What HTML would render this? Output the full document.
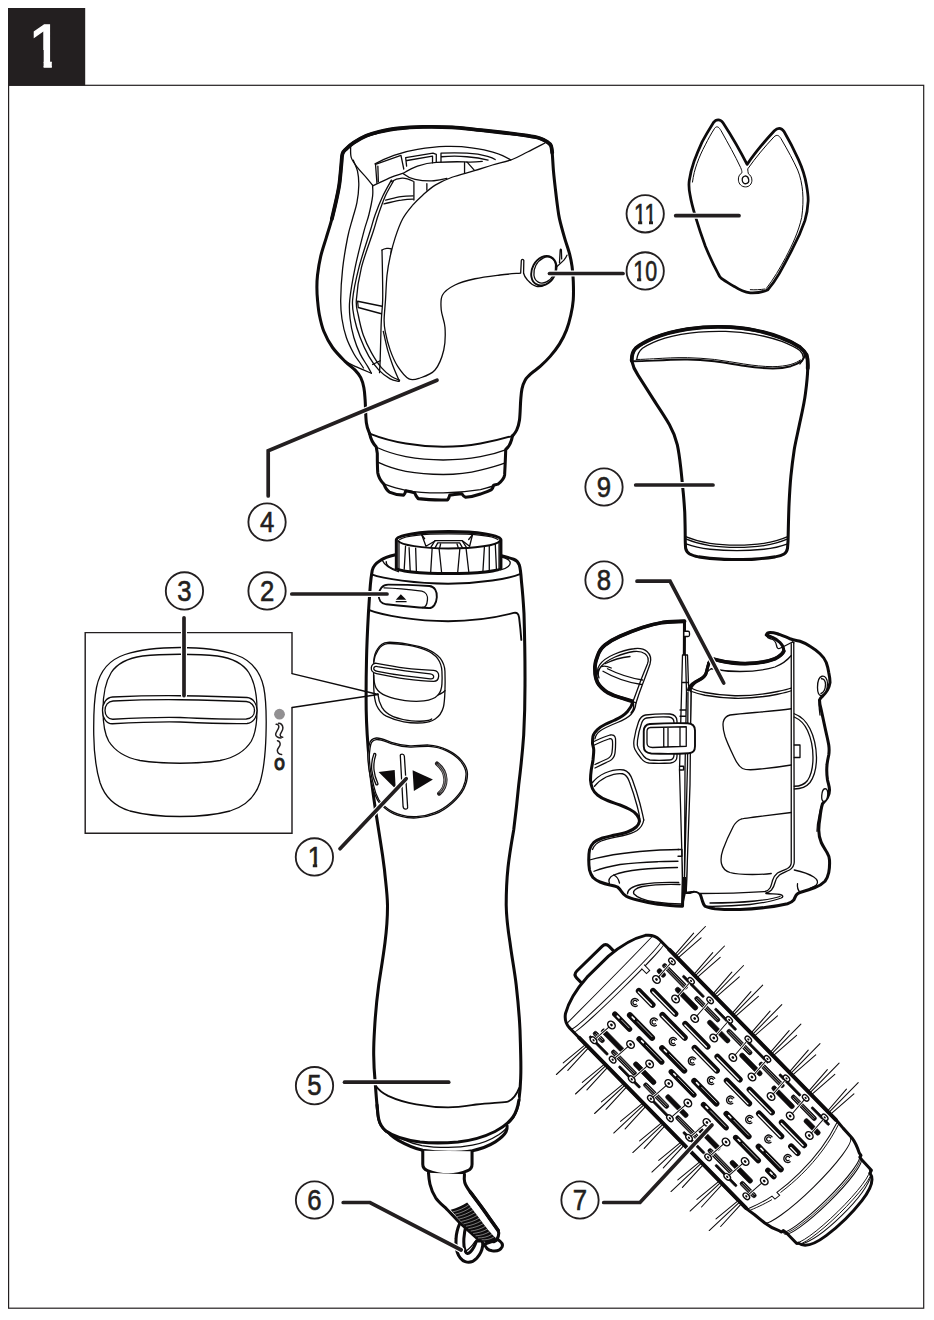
<!DOCTYPE html>
<html lang="en">
<head>
<meta charset="utf-8">
<title>1</title>
<style>
html,body{margin:0;padding:0;background:#fff;}
body{width:934px;height:1320px;overflow:hidden;position:relative;font-family:"Liberation Sans",sans-serif;}
svg{position:absolute;left:0;top:0;display:block;}
.o{fill:none;stroke:#0d0b0c;stroke-linecap:round;stroke-linejoin:round;vector-effect:non-scaling-stroke;}
.w{fill:#fff;stroke:#0d0b0c;stroke-linecap:round;stroke-linejoin:round;vector-effect:non-scaling-stroke;}
.k{fill:#0d0b0c;stroke:none;}
.t3{stroke-width:3.8} .t2{stroke-width:3.05} .t15{stroke-width:1.9} .t1{stroke-width:1.3} .t07{stroke-width:1}
.ld{fill:none;stroke:#231f20;stroke-width:3.7;stroke-linecap:round;stroke-linejoin:miter;}
.lh{fill:none;stroke:#fff;stroke-width:6;stroke-linecap:round;stroke-linejoin:miter;}
.lc{fill:#fff;stroke:#231f20;stroke-width:1.85;}
.lt{font-family:"Liberation Sans",sans-serif;font-size:28.6px;fill:#231f20;text-anchor:middle;stroke:#231f20;stroke-width:.6;}
</style>
</head>
<body>
<svg width="934" height="1320" viewBox="0 0 934 1320">
<!-- frame + header -->
<rect x="8" y="8" width="77.2" height="77.6" fill="#231f20"/>
<rect x="8.6" y="85.3" width="915.1" height="1222.9" fill="none" stroke="#231f20" stroke-width="1.2"/>
<clipPath id="c1"><polygon points="28,18 51.8,18 51.8,69 43.6,69 43.6,50 28,50"/></clipPath>
<text x="45.6" y="67.3" clip-path="url(#c1)" font-family="Liberation Sans, sans-serif" font-size="61.5" fill="#fff" text-anchor="middle" stroke="#fff" stroke-width="1.3">1</text>

<!-- ===== inset box (3): zoom origin 70,610 scale 4 ===== -->
<path d="M292,673.7 L292,632.6 L85.2,632.6 L85.2,833.2 L292,833.2 L292,707.5" fill="#fff" stroke="#231f20" stroke-width="1.45" stroke-linejoin="miter"/>
<g transform="translate(70,610) scale(0.25)">
  <!-- outer housing -->
  <path class="w t1" d="M440,150 C520,150 600,158 660,178 C720,198 760,240 775,310 C785,360 786,430 784,500 C782,570 778,630 760,690 C742,745 700,785 640,804 C580,820 510,826 440,826 C370,826 300,820 240,804 C180,786 138,745 120,690 C102,630 96,570 95,500 C94,430 96,360 106,310 C120,240 160,198 220,178 C280,158 360,150 440,150 Z"/>
  <!-- slider knob body -->
  <path class="o t1" d="M132,400 C132,340 140,290 165,250 C190,212 235,192 290,184 C340,178 390,177 440,177 C490,177 540,178 590,184 C645,192 690,212 715,250 C740,290 748,340 748,400 C748,450 745,490 725,525 C700,565 660,590 600,602 C550,610 495,613 440,613 C385,613 330,610 280,602 C220,590 180,565 155,525 C135,490 132,450 132,400 Z"/>
  <!-- slider bar -->
  <path class="w t1" d="M170,348 C260,344 350,342 440,343 C530,344 620,346 708,350 C732,352 748,374 748,402 C748,430 732,452 708,454 C620,456 530,452 440,448 C350,446 260,450 170,455 C146,456 130,432 130,402 C130,372 146,350 170,348 Z"/>
  <path class="o t1" d="M172,364 C260,360 350,358 440,359 C530,360 620,362 705,366 C726,368 738,384 738,402 C738,420 726,434 705,436 C620,438 530,434 440,430 C350,428 260,432 172,437 C152,438 140,420 140,402 C140,382 152,365 172,364 Z"/>
</g>
<!-- symbols: zoom origin 262,700 scale 17.6 -->
<circle cx="279.5" cy="714.2" r="5.4" fill="#929092"/>
<g transform="translate(262,700) scale(0.05682)" fill="none" stroke="#231f20" stroke-width="1.5" stroke-linecap="round">
  <path vector-effect="non-scaling-stroke" d="M250,428 C285,425 300,450 295,480 C287,520 245,560 240,600 C238,640 285,668 335,668"/>
  <path vector-effect="non-scaling-stroke" d="M292,408 C330,405 365,440 368,490 C370,540 325,580 320,610 C318,640 340,655 365,655"/>
  <path vector-effect="non-scaling-stroke" d="M272,716 C305,722 325,755 318,790 C310,830 268,850 270,890 C272,930 310,955 345,960"/>
</g>
<text transform="translate(279.5,770.4) scale(.8,1)" text-anchor="middle" font-family="Liberation Sans, sans-serif" font-weight="bold" font-size="17" fill="#231f20" stroke="#231f20" stroke-width=".9">O</text>

<!-- ===== attachment (4): coords A = zoom origin 310,120 scale 4 (generated by gen_attach.py) ===== -->
<g transform="translate(310,120) scale(0.25)">
  <path class="w t2" d="M238.5,1254.6 C236.3,1247.3 228.4,1233.2 225.4,1210.7 C222.4,1188.2 222.2,1143.1 220.5,1119.8 C218.8,1096.5 218.4,1085.5 215.5,1070.7 C212.6,1055.9 208.8,1042.4 203.0,1030.7 C197.2,1019.0 190.8,1011.5 180.4,1000.6 C170.0,989.7 155.3,980.6 140.3,965.5 C125.3,950.4 104.4,930.1 90.2,910.0 C76.0,889.9 64.0,866.7 55.2,845.0 C46.4,823.3 41.8,800.8 37.6,780.0 C33.4,759.2 31.8,738.2 30.1,720.0 C28.4,701.8 27.6,687.3 27.6,670.8 C27.6,654.3 27.5,641.7 30.0,620.8 C32.5,599.9 36.9,570.7 42.8,545.6 C48.7,520.5 57.7,495.5 65.2,470.4 C72.7,445.3 80.9,420.3 87.6,395.2 C94.3,370.1 100.2,343.3 105.2,320.0 C110.2,296.7 114.3,278.9 117.6,255.6 C120.9,232.3 123.1,200.5 125.2,180.4 C127.3,160.3 126.7,146.1 130.0,135.2 C133.3,124.3 137.7,122.7 145.2,115.2 C152.7,107.7 161.9,99.1 175.2,90.4 C188.5,81.7 208.5,69.9 225.2,62.8 C241.9,55.7 254.3,52.4 275.2,47.6 C296.1,42.8 321.1,37.3 350.4,34.0 C379.7,30.7 414.5,28.4 450.8,27.6 C487.1,26.8 531.8,27.4 568.0,29.3 C604.2,31.2 634.8,35.8 668.2,39.2 C701.6,42.7 735.0,46.1 768.4,50.0 C801.8,53.9 843.7,59.0 868.8,62.8 C893.9,66.6 905.5,68.7 918.8,72.8 C932.1,76.9 941.3,82.6 948.8,87.6 C956.3,92.6 960.7,95.7 964.0,102.8 C967.3,109.9 967.1,113.3 968.8,130.4 C970.5,147.5 971.8,180.7 974.0,205.6 C976.2,230.5 979.3,256.8 982.0,280.0 C984.7,303.2 987.3,325.8 990.0,345.0 C992.7,364.2 993.3,374.3 998.0,395.2 C1002.7,416.1 1011.3,446.9 1018.0,470.3 C1024.7,493.7 1033.2,516.3 1038.2,535.5 C1043.2,554.7 1045.7,567.2 1048.2,585.6 C1050.7,604.0 1052.4,623.3 1053.2,645.7 C1054.0,668.1 1054.6,697.6 1053.0,720.0 C1051.4,742.4 1047.9,760.1 1043.4,780.1 C1038.9,800.1 1033.3,821.1 1025.8,840.3 C1018.3,859.5 1009.1,877.9 998.3,895.4 C987.4,912.9 973.7,930.5 960.7,945.5 C947.8,960.5 933.1,974.3 920.6,985.6 C908.1,996.9 895.5,1003.9 885.5,1013.1 C875.5,1022.3 866.8,1030.2 860.5,1040.7 C854.2,1051.2 850.8,1062.6 847.9,1075.8 C845.0,1089.0 844.5,1099.1 842.9,1119.8 C841.2,1140.5 840.7,1180.0 838.0,1200.0 C835.3,1220.0 831.5,1229.3 826.8,1240.0 C822.1,1250.7 812.8,1260.0 810.0,1264.0"/>
  <path class="o t3" d="M87.6,395.2 C90.5,382.7 100.2,343.3 105.2,320.0 C110.2,296.7 114.3,278.9 117.6,255.6 C120.9,232.3 123.1,200.5 125.2,180.4 C127.3,160.3 126.7,146.1 130.0,135.2 C133.3,124.3 137.7,122.7 145.2,115.2 C152.7,107.7 161.9,99.1 175.2,90.4 C188.5,81.7 208.5,69.9 225.2,62.8 C241.9,55.7 254.3,52.4 275.2,47.6 C296.1,42.8 321.1,37.3 350.4,34.0 C379.7,30.7 414.5,28.4 450.8,27.6 C487.1,26.8 531.8,27.4 568.0,29.3 C604.2,31.2 634.8,35.8 668.2,39.2 C701.6,42.7 735.0,46.1 768.4,50.0 C801.8,53.9 843.7,59.0 868.8,62.8 C893.9,66.6 905.5,68.7 918.8,72.8 C932.1,76.9 941.3,82.6 948.8,87.6 C956.3,92.6 960.7,95.7 964.0,102.8 C967.3,109.9 968.0,125.8 968.8,130.4"/>
  <path class="o t1" d="M162.6,105.3 C163.0,112.8 160.5,136.2 165.1,150.4 C169.7,164.6 180.2,177.1 190.2,190.4 C200.2,203.8 215.3,218.8 225.3,230.5 C235.3,242.2 246.1,255.6 250.3,260.6"/>
  <path class="o t1" d="M160.0,106.0 C163.0,103.0 167.7,94.3 178.0,88.0 C188.3,81.7 206.3,73.8 222.0,68.0 C237.7,62.2 263.7,55.5 272.0,53.0"/>
  <path class="o t1" d="M172.7,160.4 C175.6,167.9 186.4,188.8 190.2,205.5 C193.9,222.2 195.6,239.7 195.2,260.6 C194.8,281.5 191.9,308.3 187.7,330.7 C183.5,353.1 176.3,371.8 170.1,395.0 C163.9,418.2 157.0,436.6 150.4,470.0 C143.8,503.4 135.0,553.9 130.4,595.6 C125.8,637.3 123.2,686.8 122.8,720.0 C122.4,753.2 124.0,770.0 127.8,795.0 C131.6,820.0 137.5,846.7 145.4,870.0 C153.3,893.3 166.2,918.0 175.4,935.0 C184.6,952.0 194.1,962.5 200.5,972.0 C206.9,981.5 211.8,988.7 214.0,992.0"/>
  <path class="o t1" d="M250.3,260.6 C250.3,268.1 252.8,285.8 250.3,305.7 C247.8,325.6 241.1,356.8 235.3,380.0 C229.5,403.2 224.8,410.1 215.6,445.2 C206.4,480.3 189.8,544.6 180.4,590.4 C171.0,636.2 162.3,685.9 159.0,720.0 C155.7,754.1 157.7,770.0 160.4,795.0 C163.1,820.0 168.7,846.6 175.4,870.0 C182.1,893.4 191.3,916.1 200.5,935.4 C209.7,954.7 223.0,972.7 230.5,985.6 C238.0,998.5 243.1,1008.4 245.6,1013.0"/>
  <path class="o t1" d="M140.3,965.5 C147.0,968.9 162.9,977.7 180.4,985.6 C197.9,993.5 234.7,1008.4 245.6,1013.0"/>
  <path class="o t1" d="M325.5,240.6 C319.6,251.4 301.3,282.5 290.4,305.7 C279.5,328.9 268.6,356.8 260.3,380.0 C252.0,403.2 251.2,410.1 240.4,445.2 C229.6,480.3 207.3,544.6 195.6,590.4 C183.9,636.2 173.3,685.9 170.4,720.0 C167.5,754.1 172.9,770.0 177.9,795.0 C182.9,820.0 190.9,844.9 200.5,870.0 C210.1,895.1 223.0,923.7 235.5,945.5 C248.0,967.3 261.4,985.6 275.6,1000.6 C289.8,1015.6 307.3,1028.2 320.7,1035.7 C334.1,1043.2 349.9,1044.0 355.8,1045.7"/>
  <path class="o t1" d="M333.0,245.6 C327.6,255.6 310.4,283.3 300.4,305.7 C290.4,328.1 280.8,356.8 272.9,380.0 C265.0,403.2 264.4,410.1 253.2,445.2 C242.0,480.3 216.9,544.6 205.6,590.4 C194.3,636.2 187.5,688.4 185.4,720.0 C183.3,751.6 188.4,756.7 193.0,780.0 C197.6,803.3 204.2,834.9 213.0,860.0 C221.8,885.1 233.5,908.6 245.6,930.4 C257.7,952.2 272.2,974.7 285.6,990.6 C299.0,1006.5 313.6,1017.4 325.7,1025.7 C337.8,1034.0 352.9,1038.2 358.3,1040.7 L355.8,1045.7"/>
  <path class="o t1" d="M288.0,520.4 C288.3,537.0 289.6,586.7 290.0,620.0 C290.4,653.3 291.4,690.8 290.7,720.0 C290.0,749.2 286.9,770.0 285.6,795.0 C284.3,820.0 283.9,842.4 283.1,870.0 C282.3,897.6 281.4,937.1 280.6,960.5 C279.8,983.9 278.5,1002.2 278.1,1010.6"/>
  <path class="o t1" d="M288,520.4 C298,513 316,511 325.6,515.6 M325.6,515.6 L322,548 M250.6,978 L280.6,963"/>
  <path class="o t1" d="M190.4,725 L288.1,745 M193,750 L285.6,775 M190.4,725 L193,750"/>
  <path class="w t1" d="M944.0,90.0 C931.7,96.3 892.6,116.7 870.0,128.0 C847.4,139.3 831.7,149.3 808.4,158.0 C785.1,166.7 755.1,172.5 730.0,180.0 C704.9,187.5 685.0,194.6 658.0,202.8 C631.0,211.0 594.2,219.4 568.0,229.0 C541.8,238.6 520.4,248.7 500.9,260.6 C481.4,272.6 465.9,287.3 450.8,300.7 C435.8,314.1 423.9,325.1 410.6,340.8 C397.3,356.6 382.4,373.6 370.8,395.2 C359.2,416.8 349.1,445.3 340.8,470.4 C332.5,495.5 326.3,520.5 320.8,545.6 C315.3,570.7 311.1,591.7 308.0,620.8 C304.9,649.9 303.9,690.1 302.0,720.0 C300.1,749.9 296.7,779.1 296.5,800.0 C296.3,820.9 296.7,825.2 300.7,845.3 C304.7,865.4 312.3,897.0 320.7,920.4 C329.1,943.8 338.3,966.4 350.8,985.6 C363.3,1004.8 381.0,1028.0 395.9,1035.7 C410.8,1043.4 422.6,1038.0 440.0,1032.0 C457.4,1026.0 484.2,1018.7 500.0,1000.0 C515.8,981.3 528.3,948.3 535.0,920.0 C541.7,891.7 541.7,856.7 540.0,830.0 C538.3,803.3 526.7,781.7 525.0,760.0 C523.3,738.3 520.8,716.7 530.0,700.0 C539.2,683.3 558.3,670.8 580.0,660.0 C601.7,649.2 630.0,641.7 660.0,635.0 C690.0,628.3 729.7,623.8 760.0,620.0 C790.3,616.2 828.3,613.8 842.0,612.5 L960,560 L945,130 Z" style="stroke:none"/>
  <path class="o t1" d="M944.0,90.0 C931.7,96.3 892.6,116.7 870.0,128.0 C847.4,139.3 831.7,149.3 808.4,158.0 C785.1,166.7 755.1,172.5 730.0,180.0 C704.9,187.5 685.0,194.6 658.0,202.8 C631.0,211.0 594.2,219.4 568.0,229.0 C541.8,238.6 520.4,248.7 500.9,260.6 C481.4,272.6 465.9,287.3 450.8,300.7 C435.8,314.1 423.9,325.1 410.6,340.8 C397.3,356.6 382.4,373.6 370.8,395.2 C359.2,416.8 349.1,445.3 340.8,470.4 C332.5,495.5 326.3,520.5 320.8,545.6 C315.3,570.7 311.1,591.7 308.0,620.8 C304.9,649.9 303.9,690.1 302.0,720.0 C300.1,749.9 296.7,779.1 296.5,800.0 C296.3,820.9 296.7,825.2 300.7,845.3 C304.7,865.4 312.3,897.0 320.7,920.4 C329.1,943.8 338.3,966.4 350.8,985.6 C363.3,1004.8 381.0,1028.0 395.9,1035.7 C410.8,1043.4 422.6,1038.0 440.0,1032.0 C457.4,1026.0 484.2,1018.7 500.0,1000.0 C515.8,981.3 528.3,948.3 535.0,920.0 C541.7,891.7 541.7,856.7 540.0,830.0 C538.3,803.3 526.7,781.7 525.0,760.0 C523.3,738.3 520.8,716.7 530.0,700.0 C539.2,683.3 558.3,670.8 580.0,660.0 C601.7,649.2 630.0,641.7 660.0,635.0 C690.0,628.3 729.7,623.8 760.0,620.0 C790.3,616.2 828.3,613.8 842.0,612.5"/>
  <path class="o t1" d="M293.2,845.3 C296.1,857.8 304.4,897.8 310.7,920.4 C316.9,943.0 323.2,960.5 330.7,980.6 C338.2,1000.7 351.6,1030.7 355.8,1040.7"/>
  <path class="o t1" d="M842.8,610.6 L845.3,562 C846,556 854,556 855.3,562 L854.3,613"/>
  <path class="o t1" d="M854.3,613 C858,628 864,634 870.3,640.7 C880,652 892,662 905.4,665.7 C920,668 934,664 945.5,655.7 C956,648 964,640 970.5,630.6"/>
  <ellipse class="w t15" cx="935.5" cy="603" rx="47" ry="62" transform="rotate(28 935.5 603)"/>
  <ellipse class="o t1" cx="939" cy="600" rx="40" ry="55" transform="rotate(28 939 600)"/>
  <path class="o t1" d="M988,585.6 C1000,576 1008,568 1015.6,560.5 C1021,554 1025,548 1028,540.5 M998,570.5 L1000.6,522 C1001,516 1005,515 1005.6,520 L1006.6,555.5"/>
</g>
<!-- top opening details: coords B = zoom origin 335,120 scale 4.245 -->
<g transform="translate(335,120) scale(0.23555)">
  <path class="o t1" d="M170,186 C195,172 222,160 250,150 C285,138 318,130 350,125 C390,118 430,113 470,112 C510,111 548,113 580,118 C615,123 645,128 670,136 C700,145 728,156 746,170"/>
  <path class="o t1" d="M172,188 L280,150 L292,208 M172,188 L178,268 M182,196 L184,262"/>
  <path class="o t1" d="M300,160 L416,141 L430,146 L430,180 M300,160 L304,196 M306,172 L414,153 L414,182"/>
  <path class="o t1" d="M450,141 C490,139 525,139 560,141 C595,143 625,148 648,154 C662,158 672,162 680,168 M450,141 L450,178 M452,156 C490,153 525,153 560,156 C590,158 620,162 650,170"/>
  <!-- inner ring -->
  <path class="o t1" d="M160,280 C185,268 210,256 232,246 C255,236 272,232 290,226 C310,214 330,203 350,196 C378,186 404,181 430,180 C470,178 510,176 550,178 C580,180 605,178 625,176"/>
  <path class="o t1" d="M290,228 C305,240 322,248 340,252 C368,258 396,260 420,258 C440,256 458,252 475,248"/>
  <path class="o t1" d="M238,262 C255,252 270,248 285,247 C300,246 315,252 332,260"/>
  <path class="o t1" d="M335,262 L335,340 M390,270 L390,298 M550,180 L550,226 M560,178 L592,214"/>
  <path class="o t1" d="M215,340 C240,334 260,328 280,325 C298,322 315,322 332,322 M208,356 C235,350 260,343 282,340 C300,337 316,336 332,336"/>
</g>
<!-- base of attachment: coords C = zoom origin 340,370 scale 4.556 -->
<g transform="translate(340,370) scale(0.21949)">
  <path class="w t2" d="M135,290 C140,315 150,335 165,350 L170,380 C170,410 170,440 172,468 C176,492 188,508 200,520 C208,540 215,550 225,556 C245,565 268,570 290,570 C296,565 298,558 300,550 C312,552 326,555 340,560 C345,572 350,580 356,586 C400,592 445,593 490,592 C496,586 498,578 500,570 C518,568 538,566 555,564 C560,572 565,578 572,580 C598,578 620,572 640,565 C660,558 678,552 690,545 C696,540 698,532 700,525 C708,523 714,522 720,520 C738,505 748,492 750,478 C752,440 754,400 755,362 C770,350 780,335 786,300"/>
  <path class="o t15" d="M135,290 C190,312 245,326 300,335 C358,345 414,350 470,350 C528,350 585,345 640,335 C692,326 740,314 786,300"/>
  <path class="o t1" d="M166,352 C210,372 255,386 300,395 C355,405 412,410 470,410 C528,410 585,405 640,395 C680,388 718,378 754,364"/>
  <path class="o t1" d="M172,420 C215,440 258,454 300,462 C355,472 412,476 470,476 C528,476 585,470 640,456 C680,446 716,436 750,424"/>
  <path class="o t1" d="M202,520 C235,532 268,542 300,548 C355,558 412,561 470,560 C528,559 585,554 640,545 C670,538 698,530 722,518"/>
</g>

<!-- ===== handle (5) ===== -->
<g id="handle">
<!-- body silhouette -->
<path class="w t2" d="M395.6,554.7 C388,556.5 383,558.5 380.6,560.3 C375.5,563.5 373,566 372.2,570.6 C370.8,579 370.6,582 370.3,585.6 C369.5,596 368.9,606 368.4,613.7 C367.6,628 366.8,645 366.5,660 C366.1,677 366,693 366.2,710 C366.5,727 367.6,743 369.2,760 C370.8,777 373,793 375.5,810 C377,820 378.6,830 380.2,840 C382,851 383.3,860 384.5,870 C385.6,882 387.3,893 387.5,905 C387.6,918 386.6,930 385,942.5 C383.2,957 380.8,971 378.7,985 C376.7,1000 375.3,1015 374.5,1030 C374,1038 373.6,1047 373.7,1055 C373.8,1063 374.2,1072 375,1080 C375.6,1088 376.2,1097 377,1105 C377.5,1110 377.9,1115 378.7,1119 C380,1125 383,1128.5 386,1131 C394,1137 405,1140 420,1142 C433,1143.4 446,1143 458,1142 C472,1140.5 484,1137 495,1131.5 C503,1127.5 509,1122.5 513,1117 C516.5,1112 518,1106 518.9,1100 C520,1092 520.5,1085 520.7,1078 C521,1070 520.9,1063 520.7,1055 C520.5,1047 520.3,1038 520,1030 C519.3,1015 517.9,1000 516.2,985 C514.6,971 511.8,957 510,942.5 C508,930 506.4,918 506.2,905 C506.2,892 506.7,880 508,867.5 C509.3,855 511.6,842 513.7,830 C515.6,815 517.3,800 518.7,785 C520.8,768 522.5,752 523.7,735 C524.6,718 525,702 525,685 C525.1,661 524.7,637 524,613.7 C523.4,603 522.6,592 521.5,581.8 C521,575 520.6,569 519.3,565 C518,561.5 516,560.2 513.6,559.3 C509.5,557.8 505,556.6 500.5,555.6 Z"/>
</g>
<!-- top of handle: traced in zoom coords (origin 360,520 scale 5.337) -->
<g transform="translate(360,520) scale(0.18737)">
  <!-- inner opening of collar -->
  <path class="o t1" d="M140,222 C138,240 160,258 205,268"/>
  <path class="o t1" d="M750,266 C785,258 808,240 800,222 C795,212 780,205 760,200"/>
  <path class="o t1" d="M118,214 C128,236 160,262 205,276"/>
  <!-- rim front edge -->
  <path class="o t15" d="M62,290 C120,312 300,340 470,340 C640,340 800,312 857,288"/>
  <!-- band lower line + right inner panel line -->
  <path class="o t15" d="M46,480 C120,510 300,540 470,540 C620,540 760,512 820,496 C838,492 846,500 849,520 C854,560 858,600 861,640"/>
  <!-- knob -->
  <path class="w t2" d="M194,106 C194,80 320,62 472,62 C625,62 752,80 752,106 L752,258 C752,272 625,286 472,286 C320,286 194,272 194,256 Z"/>
  <path class="o t15" d="M205,112 C215,132 330,152 472,152 C615,152 735,134 745,112"/>
  <path class="o t1" d="M212,104 C240,86 340,74 472,74 C605,74 710,86 736,104"/>
  <!-- ridges -->
  <path class="o t1" d="M262,148 L268,272 M297,150 L301,276 M243,140 L236,262 M208,120 L208,258"/>
  <path class="o t1" d="M385,152 L377,282 M422,152 L436,284"/>
  <path class="o t1" d="M533,152 L521,284 M566,150 L581,280"/>
  <path class="o t1" d="M664,144 L656,274 M690,140 L690,270 M722,128 L728,262 M742,118 L742,258"/>
  <!-- inside of knob -->
  <path class="o t1" d="M330,80 L352,140 M600,80 L585,140 M352,140 L400,112 M585,140 L548,112"/>
  <path class="o t1" d="M400,110 L545,110 L568,146 M400,110 L378,146 M415,122 L532,122 L548,150 M415,122 L400,150"/>
  <path class="o t1" d="M430,128 L425,150 M518,128 L525,150 M330,80 L345,100 M600,80 L580,104"/>
  <!-- eject button (2) -->
  <path class="w t15" d="M150,345 C220,345 300,348 370,352 C398,354 412,380 410,412 C408,445 392,472 365,470 C290,466 210,458 140,450 C112,446 98,425 100,398 C102,370 120,345 150,345 Z"/>
  <path class="o t1" d="M128,362 C200,364 270,372 330,380 C352,384 362,404 360,426 C358,450 348,468 332,467"/>
  <path class="k" d="M218,396 L247,426 L191,426 Z"/>
  <path class="o" style="stroke-width:1.2" d="M193,436 L246,436"/>
</g>
<!-- switch (3) on handle: zoom origin 355,630 scale 7.983 -->
<g transform="translate(355,630) scale(0.12527)">
  <path class="w t1" d="M150,250 C152,210 160,180 178,155 C195,125 220,100 262,98 C320,96 370,104 420,112 C480,122 530,135 570,150 C620,170 655,195 680,225 C705,258 716,290 718,330 C720,390 720,440 718,490 C716,540 714,580 706,615 C695,655 672,690 640,710 C610,730 580,738 540,741 C490,744 440,742 390,733 C340,724 290,708 250,688 C215,668 190,640 172,600 C158,565 152,520 150,470 C148,400 148,320 150,250 Z"/>
  <path class="o t1" d="M150,252 C156,214 166,186 184,160 C200,134 224,110 262,108 C320,106 370,112 420,120 C475,130 525,142 562,158 C605,176 640,200 660,228 C682,258 692,292 694,330 C696,370 696,400 694,430 C692,465 684,495 664,518 C640,545 600,560 550,566 C500,572 450,570 400,563 C345,555 290,542 250,526 C215,512 185,492 168,462 C155,438 150,400 150,360"/>
  <path class="o t1" d="M182,508 C186,548 196,585 215,618 C236,652 265,675 305,692 C350,710 400,720 450,725 C500,730 550,730 585,722 C598,719 606,715 612,710"/>
  <path class="o t1" d="M664,518 C690,508 708,498 718,484"/>
  <!-- slider bar -->
  <path class="w t1" d="M172,266 C250,280 330,294 400,305 C480,316 560,320 628,322 C655,324 670,342 668,368 C666,394 652,410 628,410 C560,408 480,400 400,390 C330,380 250,364 172,348 C145,342 128,322 130,300 C132,276 150,262 172,266 Z"/>
  <path class="o t1" d="M180,292 C250,304 330,316 400,326 C470,336 540,344 600,350 C618,352 630,362 628,376 C626,388 614,392 600,390 C540,384 470,376 400,367 C330,358 250,344 180,330 C160,326 148,316 150,304 C152,292 164,288 180,292 Z"/>
</g>
<!-- callout wedge from inset to switch -->
<path class="o" style="stroke-width:1.35" d="M292,673.7 L378.2,694.5 L292,707.5"/>
<!-- rotation button (1): zoom origin 360,730 scale 7.983 -->
<g transform="translate(360,730) scale(0.12527)">
  <path class="w t1" d="M75,112 C80,88 100,68 130,64 C165,60 210,85 250,98 C300,114 350,124 400,126 C450,128 500,118 550,120 C605,122 655,138 700,160 C745,182 785,210 812,244 C840,278 858,315 858,352 C858,395 848,432 830,468 C808,510 775,548 740,580 C700,616 650,650 600,670 C550,690 500,700 450,702 C405,704 365,700 330,690 C290,678 250,662 220,640 C185,614 158,590 140,560 C120,525 108,490 100,450 C88,400 76,350 70,300 C64,250 62,210 65,180 C67,152 70,130 75,112 Z"/>
  <path class="o t1" d="M86,116 C90,96 106,80 130,76 C165,72 205,94 248,108 C298,124 350,134 400,136 C450,138 500,128 550,130 C603,132 652,147 696,169 C740,191 778,218 804,251 C830,284 847,318 847,352 C847,393 838,428 821,463 C800,504 768,540 733,572 C694,607 645,640 596,660 C547,680 499,690 450,692 C406,694 367,690 333,680 C294,668 255,653 226,632 C192,607 166,583 149,555 C130,521 118,487 110,448 C98,398 86,349 81,300 C75,251 73,211 76,182 C78,155 81,134 86,116 Z"/>
  <!-- left arc -->
  <path class="w t1" d="M112,188 C118,184 128,190 126,200 C112,240 108,280 112,320 C116,360 128,395 142,425 C146,435 136,442 128,436 C110,400 98,360 94,320 C90,275 96,230 112,188 Z"/>
  <!-- divider -->
  <path class="w t1" d="M322,208 C320,196 328,192 336,192 C346,192 352,196 354,208 L380,612 C382,626 374,632 364,632 C354,632 346,626 344,612 Z"/>
  <!-- triangles -->
  <path class="k" d="M148,335 L277,319 L285,470 Z"/>
  <path class="k" d="M420,322 L582,396 L430,486 Z"/>
  <!-- right arc -->
  <path d="M615,268 C655,300 680,345 682,392 C684,440 665,480 632,508" fill="none" stroke="#231f20" stroke-width="4.2" stroke-linecap="round" vector-effect="non-scaling-stroke"/>
  <path d="M612,274 C650,305 672,348 674,392 C676,436 658,474 630,500" fill="none" stroke="#fff" stroke-width=".5" vector-effect="non-scaling-stroke"/>
  <path d="M625,270 C662,302 686,345 688,392 C690,438 672,478 640,506" fill="none" stroke="#fff" stroke-width=".5" vector-effect="non-scaling-stroke"/>
</g>
<!-- bottom of handle: zoom origin 360,1080 scale 5.337 -->
<g transform="translate(360,1080) scale(0.18737)">
  <!-- ring under body -->
  <path class="w t2" d="M135,255 C150,285 175,305 205,322 C245,345 290,365 335,375 C380,383 425,386 470,386 C515,386 560,384 600,377 C645,368 690,350 722,330 C750,312 770,295 780,275 C785,265 786,255 785,245"/>
  <path class="o t1" d="M160,272 C200,308 260,335 330,350 C375,358 425,360 470,360 C515,360 560,356 600,348 C650,338 700,318 740,292 C760,278 772,268 780,258"/>
  <!-- stem -->
  <path class="w t2" d="M335,378 L335,450 C335,468 345,478 360,484 C395,498 430,506 470,506 C510,506 545,498 575,484 C590,478 598,468 598,450 L598,380"/>
</g>
<!-- redraw body bottom edge over ring -->
<path class="w t2" d="M378.7,1119 C380,1125 383,1128.5 386,1131 C394,1137 405,1140 420,1142 C433,1143.4 446,1143 458,1142 C472,1140.5 484,1137 495,1131.5 C503,1127.5 509,1122.5 513,1117 C516.5,1112 518,1106 518.9,1100 L516,1090 L380,1090 Z" style="stroke:none"/>
<path class="o t2" d="M377,1105 C377.5,1110 377.9,1115 378.7,1119 C380,1125 383,1128.5 386,1131 C394,1137 405,1140 420,1142 C433,1143.4 446,1143 458,1142 C472,1140.5 484,1137 495,1131.5 C503,1127.5 509,1122.5 513,1117 C516.5,1112 518,1106 518.9,1100"/>
<g transform="translate(360,1080) scale(0.18737)">
  <!-- cap line -->
  <path class="o t15" d="M85,32 C100,55 125,72 150,85 C200,108 250,122 300,130 C355,140 410,146 470,146 C525,146 570,138 620,131 C660,126 690,124 720,122 C750,120 775,120 792,114 C815,104 835,80 850,42"/>
</g>
<!-- cord sleeve: zoom origin 400,1160 scale 6.671 -->
<g transform="translate(400,1160) scale(0.1499)">
  <!-- cord end blob -->
  <path class="w t2" d="M565,560 C570,585 590,602 615,606 C645,610 672,598 682,578 C688,562 676,545 652,530 Z"/>
  <!-- hanging loop -->
  <path class="w t2" d="M400,420 C385,455 375,490 374,525 C372,560 374,590 382,615 C392,645 410,668 435,678 C460,688 490,678 512,655 C535,630 548,600 552,570 C554,555 550,545 545,538 L510,540 C500,570 485,598 468,615 C455,628 442,625 436,610 C428,590 424,560 426,525 C428,490 434,460 442,432 Z"/>
  <path class="o t1" d="M436,610 C455,600 480,575 500,545"/>
  <!-- sleeve -->
  <path class="w t2" d="M190,85 C192,115 195,140 200,162 C208,195 220,225 238,252 C258,280 282,300 310,326 C340,355 370,390 400,420 L520,528 L625,546 C640,540 652,525 656,508 C660,492 660,480 655,470 C625,428 598,390 570,350 C535,300 500,255 470,215 C455,195 438,172 432,150 C428,132 428,112 430,95"/>
  <path class="o" style="stroke-width:3.6" d="M470,215 C500,255 535,300 570,350 C598,390 625,428 655,470"/>
  <!-- ribbed area -->
  <path class="k" d="M338,332 C375,322 415,305 448,284 C470,310 500,350 530,390 C570,445 610,495 640,520 C640,535 632,545 622,548 C585,545 545,535 518,528 C470,480 400,405 338,332 Z"/>
  <g fill="none" stroke="#fff" stroke-width=".45" vector-effect="non-scaling-stroke">
    <path vector-effect="non-scaling-stroke" d="M352,346 C390,338 428,322 458,300"/>
    <path vector-effect="non-scaling-stroke" d="M366,362 C404,354 442,338 472,316"/>
    <path vector-effect="non-scaling-stroke" d="M380,378 C418,370 456,354 486,334"/>
    <path vector-effect="non-scaling-stroke" d="M394,394 C432,386 470,370 500,352"/>
    <path vector-effect="non-scaling-stroke" d="M408,410 C446,402 484,388 514,370"/>
    <path vector-effect="non-scaling-stroke" d="M424,426 C462,418 498,406 528,388"/>
    <path vector-effect="non-scaling-stroke" d="M440,442 C476,436 512,424 542,406"/>
    <path vector-effect="non-scaling-stroke" d="M456,458 C492,452 526,442 556,424"/>
    <path vector-effect="non-scaling-stroke" d="M472,474 C506,470 540,460 570,442"/>
    <path vector-effect="non-scaling-stroke" d="M488,490 C522,486 554,478 584,460"/>
    <path vector-effect="non-scaling-stroke" d="M504,506 C536,504 568,496 598,478"/>
    <path vector-effect="non-scaling-stroke" d="M520,520 C552,520 582,514 612,496"/>
    <path vector-effect="non-scaling-stroke" d="M545,532 C572,534 600,530 626,514"/>
  </g>
</g>

<!-- ===== pick (11): zoom origin 670,105 scale 6.227 ===== -->
<g transform="translate(670,105) scale(0.1606)">
  <path class="w t2" style="stroke-width:2.75" d="M270,110 C280,96 290,92 300,92 C312,92 322,98 330,110 C385,195 435,280 480,370 C530,295 590,225 650,160 C660,150 670,145 680,145 C692,145 702,152 710,165 C745,225 775,285 800,340 C825,395 842,450 850,500 C858,545 862,570 860,600 C858,640 852,680 840,720 C818,785 790,845 760,900 C735,950 708,1000 680,1050 C658,1088 635,1120 610,1150 C580,1165 540,1172 500,1170 C465,1166 430,1150 400,1130 C370,1112 340,1096 320,1080 C310,1072 304,1060 300,1050 C270,995 245,940 220,880 C198,820 178,760 160,700 C145,650 132,605 125,560 C118,525 116,495 120,470 C126,430 136,390 150,350 C165,310 182,270 200,230 C222,188 246,148 270,110 Z"/>
  <path class="o t07" d="M140,480 C145,440 155,400 168,365 C182,325 200,285 220,248 C238,212 258,175 278,145 C284,136 292,134 300,138 C306,142 312,150 318,160 C362,240 405,315 440,390 C446,404 448,412 448,422 C432,432 424,448 426,468 C428,492 446,510 470,510 C494,510 510,492 510,468 C510,450 500,436 488,428 C486,418 484,408 484,398 C535,325 592,258 648,198 C656,190 666,186 676,192 C682,196 690,206 696,218 C735,285 768,345 795,405 C812,445 822,495 826,540 C830,590 828,645 820,700 C800,790 762,870 720,950 C685,1015 645,1085 600,1142"/>
  <path class="o t1" d="M470,442 C455,445 448,455 450,470 C452,484 462,492 474,490 C486,488 492,478 490,464 C488,452 480,444 470,442 Z"/>
  <path class="o t07" d="M590,1146 C560,1150 530,1152 500,1150"/>
</g>
<!-- ===== concentrator (9): zoom origin 620,310 scale 4.448 ===== -->
<g transform="translate(620,310) scale(0.22484)">
  <path class="w t2" d="M52,225 C58,255 68,272 80,290 C102,325 126,362 150,400 C175,438 200,475 220,510 C238,542 248,570 255,600 C262,632 266,665 270,700 C274,735 277,768 280,800 C284,835 286,868 288,900 C289,935 290,968 290,1000 C290,1020 290,1042 292,1060 C295,1074 302,1080 310,1085 C322,1092 336,1095 350,1098 C385,1104 418,1107 450,1108 C475,1110 498,1110 520,1110 C548,1110 575,1110 600,1108 C632,1106 662,1102 690,1098 C705,1095 720,1091 730,1085 C738,1080 743,1072 745,1060 C747,1040 748,1020 748,1000 C749,952 750,905 752,860 C754,820 756,780 760,740 C764,700 769,660 775,620 C782,580 792,540 800,500 C810,455 820,412 825,370 C830,332 834,295 835,260 C836,235 835,215 830,200 C822,185 812,175 800,165 C775,148 748,135 720,125 C682,110 642,98 600,90 C552,80 500,76 450,75 C400,74 350,78 300,85 C248,93 196,106 150,125 C120,138 92,152 70,170 C58,182 52,200 52,225 Z"/>
  <path class="o t3" d="M52,225 C52,200 58,182 70,170 C92,152 120,138 150,125 C196,106 248,93 300,85 C350,78 400,74 450,75 C500,76 552,80 600,90 C642,98 682,110 720,125 C748,135 775,148 800,165 C812,175 822,185 830,200 C835,215 836,235 835,260"/>
  <path class="o t1" d="M75,218 C78,195 88,180 100,170 C130,150 165,136 200,125 C250,110 300,102 350,98 C390,95 430,94 470,95 C515,96 558,100 600,108 C642,116 682,126 720,140 C750,152 778,165 800,180 C810,190 816,200 815,212 C814,225 810,232 800,240"/>
  <path class="o t15" d="M54,228 C85,228 118,226 150,225 C200,222 250,219 300,220 C340,221 380,224 420,228 C465,233 508,242 550,248 C595,255 638,260 680,260 C710,260 738,256 760,250 C782,243 798,235 810,225 C818,216 822,205 820,195"/>
  <path class="o t07" d="M72,220 C100,220 125,218 150,217 C200,214 250,211 300,212 C340,213 380,216 420,220 C465,225 508,234 550,240 C595,247 638,252 680,252 C710,252 738,248 760,242 C780,236 792,230 802,222"/>
  <!-- bottom rings -->
  <path class="o t1" d="M292,1008 C325,1022 362,1032 400,1038 C440,1044 480,1046 520,1046 C560,1046 600,1044 640,1038 C678,1032 714,1022 746,1008"/>
  <path class="o t1" d="M292,1018 C325,1032 362,1042 400,1048 C440,1054 480,1056 520,1056 C560,1056 600,1054 640,1048 C678,1042 714,1032 746,1018"/>
  <path class="o t1" d="M294,1040 C325,1052 362,1060 400,1064 C440,1068 480,1070 520,1070 C560,1070 600,1068 640,1064 C678,1060 714,1052 746,1040"/>
</g>

<!-- ===== holder (8): coords H = zoom origin 580,610 scale 4 ===== -->
<g transform="translate(580,610) scale(0.25)">
  <!-- right/back half silhouette -->
  <path class="w t2" d="M745,100 C748,92 752,90 760,90 C770,90 780,92 790,95 C808,102 824,108 840,115 C854,120 867,122 880,125 C895,130 908,137 920,145 C935,154 948,164 960,175 C972,186 980,198 985,210 C990,224 993,237 995,250 C998,264 1000,277 1000,290 C998,302 995,312 990,320 C984,330 977,338 970,345 C964,350 960,355 958,360 C958,374 961,387 965,400 C970,424 975,447 980,470 C985,494 991,517 995,540 C997,554 997,567 995,580 C992,594 989,607 988,620 C986,640 987,660 990,680 C993,694 998,707 998,720 C998,732 995,742 990,750 C984,760 976,768 970,775 C964,794 962,812 960,830 C957,847 955,864 955,880 C955,898 959,915 965,930 C972,945 981,958 988,970 C994,980 998,990 998,1000 C999,1018 998,1035 995,1050 C992,1064 987,1076 980,1085 C968,1097 955,1105 940,1110 C920,1118 900,1124 880,1130 C874,1132 869,1135 865,1140 C861,1147 858,1154 855,1160 C848,1168 840,1172 830,1175 C800,1182 770,1187 740,1190 C707,1194 673,1197 640,1198 C607,1199 573,1198 540,1195 C525,1193 510,1190 500,1185 C495,1180 492,1172 490,1165 C487,1155 484,1144 480,1135 C475,1128 468,1125 460,1125 C452,1125 445,1128 440,1130 L425,1130 L440,320 C445,300 460,290 470,284 C490,275 498,268 504,255 C508,240 510,225 516,212 C520,204 525,198 530,195 C560,205 600,212 640,214 C690,216 740,210 780,195 C798,186 810,176 815,165 C816,150 808,138 800,130 C790,120 780,114 770,110 C762,106 752,104 745,100 Z"/>
  <!-- top concave heavy -->
  <path class="o t3" d="M516,212 C522,200 528,196 536,197 C570,207 605,213 640,214 C690,216 740,210 780,195 C798,186 810,176 815,165"/>
  <!-- hook -->
  <path class="o t1" d="M745,100 C748,110 755,114 765,116 C778,120 784,130 786,142 C788,152 792,156 798,154 C815,146 835,136 850,128"/>
  <!-- inner back rim -->
  <path class="o t1" d="M525,235 C560,242 600,246 640,246 C690,246 740,240 780,228 C805,218 830,200 845,182"/>
  <path class="o t1" d="M504,255 C510,246 518,238 525,235"/>
  <!-- front shell -->
  <path class="w t1" d="M445,312 C455,318 470,324 500,330 C540,338 580,342 620,343 C680,344 740,336 790,326 C815,321 835,316 845,312 L845,1010 C845,1020 840,1028 830,1034 C815,1042 800,1046 790,1052 C780,1060 774,1070 770,1082 C767,1094 765,1104 760,1112 C755,1120 748,1124 740,1126 C650,1132 560,1134 480,1134 C470,1128 462,1124 452,1126 L425,1130 C430,860 438,580 445,312 Z"/>
  <path class="o t1" d="M447,326 C460,331 475,336 500,341 C540,348 580,352 620,353 C680,354 740,347 790,337 C815,332 835,327 845,323"/>
  <!-- double right edge of front shell -->
  <path class="o t1" d="M855,130 L857,1008 C857,1022 850,1032 838,1040 C822,1048 808,1052 798,1060 C788,1068 783,1078 780,1090 C777,1102 773,1112 766,1120 C760,1126 752,1130 744,1132"/>
  <path class="o t1" d="M845,135 L845,312"/>
  <path class="o t1" d="M850,128 C854,128 856,129 855,132"/>
  <!-- windows -->
  <path class="o t1" d="M845,395 C800,402 750,406 700,410 C665,413 630,416 600,420 C585,424 576,434 573,448 C570,465 574,485 580,505 C590,535 605,565 618,592 C626,610 635,625 650,634 C665,641 690,640 720,636 C765,632 810,626 845,620"/>
  <path class="o t1" d="M845,810 C800,816 750,822 700,828 C678,831 658,833 645,836 C630,842 620,852 612,868 C598,895 582,930 572,958 C565,978 562,998 566,1015 C570,1032 582,1044 600,1050 C620,1056 650,1058 690,1058 C720,1058 745,1057 765,1054"/>
  <!-- side disc -->
  <path class="o t1" d="M857,415 C885,425 905,445 920,475 C935,505 945,545 946,590 C946,630 938,665 920,690 C905,708 882,716 857,716"/>
  <path class="o t1" d="M857,428 C880,438 898,456 910,482 C924,512 932,548 932,590 C932,628 925,660 910,682 C898,698 880,705 857,705"/>
  <path class="o t1" d="M857,540 L880,540 L880,590 L857,590"/>
  <!-- ring holes on right edge -->
  <path class="w t1" d="M968,265 C980,262 990,275 990,295 C990,318 980,338 966,342 C955,344 950,330 950,310 C950,288 956,268 968,265 Z"/>
  <path class="o t1" d="M966,275 C975,274 982,284 982,298 C982,316 974,332 964,334"/>
  <path class="w t1" d="M980,715 C988,714 992,724 991,738 C990,752 984,764 976,766 C968,766 966,756 967,742 C968,728 972,716 980,715 Z"/>
  <!-- right rail double line -->
  <path class="o t1" d="M958,360 C954,380 957,400 960,420 M970,775 C962,790 958,812 955,830 C950,850 948,870 948,885"/>
  <!-- bottom inside -->
  <path class="o t1" d="M857,1040 C885,1046 915,1055 935,1068 C950,1078 955,1090 945,1100 C938,1106 930,1109 922,1112"/>
  <path class="o t1" d="M880,1130 C872,1120 868,1108 870,1095"/>
  <path class="o t1" d="M500,1185 C560,1186 620,1184 680,1178 C730,1172 775,1164 805,1152 C815,1147 812,1140 800,1138 C785,1136 765,1136 744,1134"/>
  <path class="o t1" d="M520,1172 C580,1172 640,1170 700,1164 C740,1160 775,1154 800,1146"/>

  <!-- ===== left half ===== -->
  <path class="w t2" d="M418,45 C380,46 350,48 330,50 C300,55 275,62 250,70 C220,80 190,92 160,105 C135,116 115,128 100,140 C85,152 75,168 70,185 C62,205 58,222 60,240 C60,262 64,278 70,290 C80,308 95,320 110,330 C128,340 145,346 160,350 C178,356 195,360 212,366 C208,382 200,395 190,406 C176,422 158,432 140,440 C126,447 112,452 100,458 C88,464 78,470 70,478 C60,488 54,496 52,505 C50,516 50,526 50,535 C52,545 55,552 55,560 C55,575 53,588 52,600 C50,614 47,627 45,640 C43,654 42,667 42,680 C43,694 46,706 50,715 C55,726 62,734 70,740 C82,750 96,757 110,762 C126,769 144,774 160,780 C175,786 188,792 200,798 C212,804 222,812 228,820 C234,828 238,836 238,845 C236,854 232,862 225,868 C215,877 203,883 190,888 C174,894 157,897 140,900 C123,904 106,907 90,912 C76,917 64,923 55,930 C46,939 41,949 38,960 C35,974 35,987 35,1000 C35,1014 36,1028 38,1040 C41,1052 46,1062 52,1070 C60,1078 70,1084 80,1088 C93,1093 107,1097 120,1100 C132,1102 142,1104 150,1108 C156,1113 161,1119 165,1125 C170,1133 177,1140 185,1145 C198,1152 214,1156 230,1160 C253,1166 277,1171 300,1175 C320,1178 340,1180 360,1182 C377,1184 394,1185 410,1185 L413,1068 L418,45 Z"/>
  <!-- heavier top edge and ring edge -->
  <path class="o t3" d="M418,45 C380,46 350,48 330,50 C300,55 275,62 250,70 C220,80 190,92 160,105 C135,116 115,128 100,140 C85,152 75,168 70,185 C62,205 58,222 60,240 C60,262 64,278 70,290 C80,308 95,320 110,330 C128,340 145,346 160,350 C178,356 195,360 212,366"/>
  <!-- top ring loop (double) -->
  <path class="w t1" d="M212,366 C222,340 232,312 242,285 C252,258 262,235 270,215 C276,198 272,184 260,175 C248,166 232,164 215,166 C190,170 165,178 140,188 C118,198 98,210 85,225 C74,238 70,255 76,272 C68,255 68,235 78,220 C90,202 112,188 135,178 C160,167 188,158 215,155 C235,152 255,155 268,166 C282,178 286,196 280,216 C272,240 262,265 252,292 C242,318 232,346 224,372 Z"/>
  <path class="o t1" d="M100,215 C130,200 165,190 200,186 M110,235 C150,255 200,272 250,280 M92,245 C135,270 190,290 246,298"/>
  <path class="o t1" d="M86,226 C100,222 112,226 125,232"/>
  <!-- mid window -->
  <path class="o t1" d="M58,525 C80,515 100,506 120,500 C132,497 140,502 142,514 C143,535 142,555 140,572 C138,588 130,598 118,604 C100,612 80,622 60,632"/>
  <path class="o t1" d="M58,540 C80,530 100,521 118,515 C126,513 130,518 130,526 C131,542 130,556 128,570 C126,582 120,590 110,595 C94,602 76,610 60,618"/>
  <!-- second loop inner lines -->
  <path class="o t1" d="M50,690 C62,675 78,662 100,652 C125,642 150,636 175,640 C192,644 202,658 210,680 C222,712 232,745 240,775 C246,800 252,822 255,840"/>
  <path class="o t1" d="M58,705 C70,690 85,678 105,668 C128,658 150,652 170,655 C184,658 192,670 198,688 C210,720 220,752 228,782 C232,798 236,812 238,826"/>
  <path class="o t1" d="M212,366 C218,385 214,400 204,412 M224,372 C222,392 214,408 204,418 C190,432 170,442 150,450 C125,460 100,470 80,484 C68,493 62,503 60,515"/>
  <path class="o t1" d="M255,840 C252,858 242,872 228,882 C212,892 192,898 170,903 C140,910 110,914 85,924 C68,931 56,942 50,958"/>
  <!-- base ellipses -->
  <path class="o t1" d="M38,1000 C80,988 125,980 170,974 C220,967 270,963 320,960 C345,959 370,958 395,958"/>
  <path class="o t1" d="M56,1045 C90,1032 125,1024 160,1018 C210,1012 260,1009 310,1007 C338,1006 365,1005 392,1005"/>
  <path class="o t1" d="M118,1095 C112,1080 118,1068 135,1060 C165,1048 200,1042 240,1038 C290,1033 340,1031 390,1030"/>
  <path class="o t1" d="M135,1060 C148,1066 155,1078 158,1092"/>
  <path class="o t1" d="M215,1135 C210,1122 225,1112 250,1106 C295,1098 345,1096 400,1098 M215,1135 C230,1152 260,1162 300,1168 C335,1173 370,1176 405,1176"/>
  <path class="o t1" d="M190,1135 C190,1118 210,1105 245,1098 C290,1090 340,1088 395,1090"/>
  <!-- hinge strip -->
  <path class="w t1" d="M418,85 L432,85 C436,85 438,88 438,92 L438,100 C438,104 436,106 432,106 L418,106"/>
  <path class="w t1" d="M410,180 L430,180 L434,300 L444,330 L440,700 L425,1130 L412,1130 L398,640 Z"/>
  <path class="o t1" d="M422,180 L426,330 L420,640 L418,1070 M432,330 L430,620 L418,1070 M398,640 L410,640 M410,290 L434,290 M400,400 L424,400 L424,425 L400,425 M398,625 L414,625 L414,640 M392,958 L408,958 L408,985 L392,985"/>
  <path class="o t2" d="M434,320 C436,305 446,296 460,288 C480,278 494,272 502,258 C508,244 510,228 516,212"/>
  <path class="k" d="M412,1068 L424,1068 L424,1130 L412,1185 Z"/>
  <!-- latch -->
  <path class="w t1" d="M262,420 C295,416 330,414 360,416 C378,418 388,428 388,445 L388,585 C388,602 378,610 362,612 C330,614 300,614 275,612 C262,610 252,604 245,594 C235,582 226,570 220,558 C214,546 214,535 216,520 C220,495 226,470 234,448 C240,432 248,422 262,420 Z"/>
  <path class="o t1" d="M266,432 C296,428 330,426 356,428 C370,430 376,438 376,450 L376,580 C376,594 370,599 358,600 C330,602 302,602 280,600 C270,598 262,594 256,586 C247,575 239,564 233,553 C228,543 228,534 230,521 C233,498 239,474 246,454 C250,441 256,434 266,432 Z"/>
  <path class="w t15" d="M280,456 C330,453 380,452 430,453 C450,454 460,464 460,482 L460,545 C460,562 452,572 435,573 C385,576 335,576 285,574 C265,572 255,562 255,545 L255,485 C255,466 262,458 280,456 Z"/>
  <path class="o t1" d="M282,470 L425,467 L425,545 L290,550 C275,550 268,545 268,532 L268,485 C268,475 272,471 282,470 Z M335,469 L335,548 M352,469 L352,548 M400,468 L400,546"/>
</g>

<!-- ===== brush (7): local frame, axis rotated 45.6deg ===== -->
<g transform="translate(618.75,988.1) rotate(45.6)">
<path d="M17.6,-59.0L16.6,-105.0M19.7,-59.0L21.7,-94.0M15.9,-59.0L13.1,-92.0M19.1,59.0L18.1,105.0M21.2,59.0L23.2,94.0M17.4,59.0L14.6,92.0M44.9,-59.0L43.9,-105.0M47.0,-59.0L49.0,-94.0M43.2,-59.0L40.4,-92.0M46.4,59.0L45.4,105.0M48.5,59.0L50.5,94.0M44.7,59.0L41.9,92.0M72.2,-59.0L71.2,-105.0M74.3,-59.0L76.3,-94.0M70.5,-59.0L67.7,-92.0M73.7,59.0L72.7,105.0M75.8,59.0L77.8,94.0M72.0,59.0L69.2,92.0M99.5,-59.0L98.5,-105.0M101.6,-59.0L103.6,-94.0M97.8,-59.0L95.0,-92.0M101.0,59.0L100.0,105.0M103.1,59.0L105.1,94.0M99.3,59.0L96.5,92.0M126.8,-59.0L125.8,-105.0M128.9,-59.0L130.9,-94.0M125.1,-59.0L122.3,-92.0M128.3,59.0L127.3,105.0M130.4,59.0L132.4,94.0M126.6,59.0L123.8,92.0M154.1,-59.0L153.1,-105.0M156.2,-59.0L158.2,-94.0M152.4,-59.0L149.6,-92.0M155.6,59.0L154.6,105.0M157.7,59.0L159.7,94.0M153.9,59.0L151.1,92.0M181.4,-59.0L180.4,-105.0M183.5,-59.0L185.5,-94.0M179.7,-59.0L176.9,-92.0M182.9,59.0L181.9,105.0M185.0,59.0L187.0,94.0M181.2,59.0L178.4,92.0M208.7,-59.0L207.7,-105.0M210.8,-59.0L212.8,-94.0M207.0,-59.0L204.2,-92.0M210.2,59.0L209.2,105.0M212.3,59.0L214.3,94.0M208.5,59.0L205.7,92.0M236.0,-59.0L235.0,-105.0M238.1,-59.0L240.1,-94.0M234.3,-59.0L231.5,-92.0M237.5,59.0L236.5,105.0M239.6,59.0L241.6,94.0M235.8,59.0L233.0,92.0" fill="none" stroke="#0d0b0c" stroke-width="1.05" stroke-linecap="round"/>
<path d="M-26,-22.3 L-36.5,-22.3 C-39.8,-22.3 -41.5,-20.5 -41.5,-17.3 L-41.5,18 C-41.5,21.2 -39.8,23 -36.5,23 L-26,23 Z" fill="#fff" stroke="#0d0b0c" stroke-width="3.0" stroke-linejoin="round"/>
<path d="M0,-63 L-6,-63 C-12,-63 -16,-60 -19,-56 C-25,-46 -29,-30 -30,-15 L-30,15 C-29,30 -25,46 -19,56 C-16,60 -12,63 -6,63 L0,63 L248,63 L257,61.5 L270,60 C277,59 282,57 286,55 L288,54.5 L288.5,52 L292,51.5 L307,51.5 L308,50 C315,49 320,40 322,25 C324,10 324,-10 322,-25 C320,-40 315,-49 308,-50 L307,-53 L292,-53.5 L289.5,-54 L289,-56 L286,-56.5 C282,-58.5 277,-61 270,-61.8 L257,-62.3 L248,-63 Z" fill="#fff" stroke="#0d0b0c" stroke-width="3.0" stroke-linejoin="round"/>
<path d="M8,63 L246,63 M8,-63 L246,-63" fill="none" stroke="#0d0b0c" stroke-width="3.9" stroke-linecap="round"/>
<path d="M0,63 A3,63 0 0 0 0,-63 M-3.5,62.5 A3,63 0 0 0 -3.5,-62.5" fill="none" stroke="#0d0b0c" stroke-width="1"/>
<path d="M-11,62.5 C-11.5,30 -12,-20 -13.5,-60" fill="none" stroke="#0d0b0c" stroke-width="1"/>
<path d="M1,-34.5 L9,-34.5 L9,-30 L2,-30" fill="#fff" stroke="#0d0b0c" stroke-width="1"/>
<path d="M248,62.5 C252,52 254.5,44 255.8,36 L260,36 L260.6,30 L256.6,30 C258,20 258.5,10 258.5,0 C258.5,-22 255,-44 248.5,-62.5" fill="none" stroke="#0d0b0c" stroke-width="1"/>
<path d="M250.5,62 C254.5,52 257,44 258.3,38.5 M259.2,27.5 C260.4,18 261,9 261,0 C261,-22 257.5,-44 251,-62" fill="none" stroke="#0d0b0c" stroke-width=".9"/>
<path d="M269,60.5 A9.5,60.5 0 0 0 269,-60.5" fill="none" stroke="#0d0b0c" stroke-width="1"/>
<path d="M288,54.5 A8.5,54.5 0 0 0 288,-54.5" fill="none" stroke="#0d0b0c" stroke-width="1.1"/>
<path d="M289.8,54 A8.5,54 0 0 0 289.8,-54" fill="none" stroke="#0d0b0c" stroke-width="0.8"/>
<path d="M291.5,53.5 A8.5,53.5 0 0 0 291.5,-53.5" fill="none" stroke="#0d0b0c" stroke-width="1.1"/>
<path d="M305,52 A8,52 0 0 0 305,-52" fill="none" stroke="#0d0b0c" stroke-width="0.9"/>
<path d="M307.5,51.5 A8,51.5 0 0 0 307.5,-51.5" fill="none" stroke="#0d0b0c" stroke-width="0.9"/>
<path d="M310,50 C316,40 318.5,20 318.5,0 C318.5,-20 316,-40 310,-50" fill="none" stroke="#0d0b0c" stroke-width="1"/>
<path d="M26.0,-24.5L58.0,-24.5A2.0,2.0 0 0 1 58.0,-20.5L26.0,-20.5A2.0,2.0 0 0 1 26.0,-24.5ZM72.0,-24.5L104.0,-24.5A2.0,2.0 0 0 1 104.0,-20.5L72.0,-20.5A2.0,2.0 0 0 1 72.0,-24.5ZM118.0,-24.5L150.0,-24.5A2.0,2.0 0 0 1 150.0,-20.5L118.0,-20.5A2.0,2.0 0 0 1 118.0,-24.5ZM164.0,-24.5L196.0,-24.5A2.0,2.0 0 0 1 196.0,-20.5L164.0,-20.5A2.0,2.0 0 0 1 164.0,-24.5ZM210.0,-24.5L242.0,-24.5A2.0,2.0 0 0 1 242.0,-20.5L210.0,-20.5A2.0,2.0 0 0 1 210.0,-24.5ZM16.1,-14.5L35.6,-14.5A2.1,2.1 0 0 1 35.6,-10.3L16.1,-10.3A2.1,2.1 0 0 1 16.1,-14.5ZM49.8,-14.5L81.6,-14.5A2.1,2.1 0 0 1 81.6,-10.3L49.8,-10.3A2.1,2.1 0 0 1 49.8,-14.5ZM95.8,-14.5L127.6,-14.5A2.1,2.1 0 0 1 127.6,-10.3L95.8,-10.3A2.1,2.1 0 0 1 95.8,-14.5ZM141.8,-14.5L173.6,-14.5A2.1,2.1 0 0 1 173.6,-10.3L141.8,-10.3A2.1,2.1 0 0 1 141.8,-14.5ZM187.8,-14.5L219.6,-14.5A2.1,2.1 0 0 1 219.6,-10.3L187.8,-10.3A2.1,2.1 0 0 1 187.8,-14.5ZM233.8,-14.5L242.9,-14.5A2.1,2.1 0 0 1 242.9,-10.3L233.8,-10.3A2.1,2.1 0 0 1 233.8,-14.5Z" fill="#0d0b0c" stroke="#0d0b0c" stroke-width="1.9"/>
<path d="M26.6,-21.5L57.4,-21.5M72.6,-21.5L103.4,-21.5M118.6,-21.5L149.4,-21.5M164.6,-21.5L195.4,-21.5M210.6,-21.5L241.4,-21.5M16.6,-11.3L35.1,-11.3M50.3,-11.3L81.1,-11.3M96.3,-11.3L127.1,-11.3M142.3,-11.3L173.1,-11.3M188.3,-11.3L219.1,-11.3M234.3,-11.3L242.4,-11.3" fill="none" stroke="#fff" stroke-width="1.35" stroke-linecap="round"/>
<path d="M27.1,8.9L58.9,8.9A2.1,2.1 0 0 1 58.9,13.1L27.1,13.1A2.1,2.1 0 0 1 27.1,8.9ZM73.1,8.9L104.9,8.9A2.1,2.1 0 0 1 104.9,13.1L73.1,13.1A2.1,2.1 0 0 1 73.1,8.9ZM119.1,8.9L150.9,8.9A2.1,2.1 0 0 1 150.9,13.1L119.1,13.1A2.1,2.1 0 0 1 119.1,8.9ZM165.1,8.9L196.9,8.9A2.1,2.1 0 0 1 196.9,13.1L165.1,13.1A2.1,2.1 0 0 1 165.1,8.9ZM211.1,8.9L242.9,8.9A2.1,2.1 0 0 1 242.9,13.1L211.1,13.1A2.1,2.1 0 0 1 211.1,8.9ZM15.9,19.1L36.8,19.1A1.9,1.9 0 0 1 36.8,22.9L15.9,22.9A1.9,1.9 0 0 1 15.9,19.1ZM50.6,19.1L82.8,19.1A1.9,1.9 0 0 1 82.8,22.9L50.6,22.9A1.9,1.9 0 0 1 50.6,19.1ZM96.6,19.1L128.8,19.1A1.9,1.9 0 0 1 128.8,22.9L96.6,22.9A1.9,1.9 0 0 1 96.6,19.1ZM142.6,19.1L174.8,19.1A1.9,1.9 0 0 1 174.8,22.9L142.6,22.9A1.9,1.9 0 0 1 142.6,19.1ZM188.6,19.1L220.8,19.1A1.9,1.9 0 0 1 220.8,22.9L188.6,22.9A1.9,1.9 0 0 1 188.6,19.1ZM234.6,19.1L243.1,19.1A1.9,1.9 0 0 1 243.1,22.9L234.6,22.9A1.9,1.9 0 0 1 234.6,19.1Z" fill="#0d0b0c" stroke="#0d0b0c" stroke-width="1.7"/>
<path d="M37.0,10.2L58.0,10.2M83.0,10.2L104.0,10.2M129.0,10.2L150.0,10.2M175.0,10.2L196.0,10.2M221.0,10.2L242.0,10.2M25.0,20.4L35.7,20.4M59.7,20.4L81.7,20.4M105.7,20.4L127.7,20.4M151.7,20.4L173.7,20.4M197.7,20.4L219.7,20.4M243.7,20.4L242.0,20.4" fill="none" stroke="#fff" stroke-width=".7" stroke-linecap="round"/>
<path d="M30.0,10.6L33.0,10.6M76.0,10.6L79.0,10.6M122.0,10.6L125.0,10.6M168.0,10.6L171.0,10.6M214.0,10.6L217.0,10.6M19.0,20.6L21.5,20.6M53.7,20.6L56.2,20.6M99.7,20.6L102.2,20.6M145.7,20.6L148.2,20.6M191.7,20.6L194.2,20.6M237.7,20.6L240.2,20.6" fill="none" stroke="#fff" stroke-width="1.6" stroke-linecap="round"/>
<path d="M16.4,-43.4L21.6,-43.4A2.4,2.4 0 0 1 21.6,-38.6L16.4,-38.6A2.4,2.4 0 0 1 16.4,-43.4ZM42.4,-43.4L67.6,-43.4A2.4,2.4 0 0 1 67.6,-38.6L42.4,-38.6A2.4,2.4 0 0 1 42.4,-43.4ZM88.4,-43.4L113.6,-43.4A2.4,2.4 0 0 1 113.6,-38.6L88.4,-38.6A2.4,2.4 0 0 1 88.4,-43.4ZM134.4,-43.4L159.6,-43.4A2.4,2.4 0 0 1 159.6,-38.6L134.4,-38.6A2.4,2.4 0 0 1 134.4,-43.4ZM180.4,-43.4L205.6,-43.4A2.4,2.4 0 0 1 205.6,-38.6L180.4,-38.6A2.4,2.4 0 0 1 180.4,-43.4ZM226.4,-43.4L242.6,-43.4A2.4,2.4 0 0 1 242.6,-38.6L226.4,-38.6A2.4,2.4 0 0 1 226.4,-43.4ZM16.2,-50.7L45.8,-50.7A2.2,2.2 0 0 1 45.8,-46.3L16.2,-46.3A2.2,2.2 0 0 1 16.2,-50.7ZM62.2,-50.7L91.8,-50.7A2.2,2.2 0 0 1 91.8,-46.3L62.2,-46.3A2.2,2.2 0 0 1 62.2,-50.7ZM108.2,-50.7L137.8,-50.7A2.2,2.2 0 0 1 137.8,-46.3L108.2,-46.3A2.2,2.2 0 0 1 108.2,-50.7ZM154.2,-50.7L183.8,-50.7A2.2,2.2 0 0 1 183.8,-46.3L154.2,-46.3A2.2,2.2 0 0 1 154.2,-50.7ZM200.2,-50.7L229.8,-50.7A2.2,2.2 0 0 1 229.8,-46.3L200.2,-46.3A2.2,2.2 0 0 1 200.2,-50.7ZM37.2,-55.7L64.8,-55.7A1.2,1.2 0 0 1 64.8,-53.3L37.2,-53.3A1.2,1.2 0 0 1 37.2,-55.7ZM83.2,-55.7L110.8,-55.7A1.2,1.2 0 0 1 110.8,-53.3L83.2,-53.3A1.2,1.2 0 0 1 83.2,-55.7ZM129.2,-55.7L156.8,-55.7A1.2,1.2 0 0 1 156.8,-53.3L129.2,-53.3A1.2,1.2 0 0 1 129.2,-55.7ZM175.2,-55.7L202.8,-55.7A1.2,1.2 0 0 1 202.8,-53.3L175.2,-53.3A1.2,1.2 0 0 1 175.2,-55.7ZM221.2,-55.7L243.8,-55.7A1.2,1.2 0 0 1 243.8,-53.3L221.2,-53.3A1.2,1.2 0 0 1 221.2,-55.7ZM20.4,38.6L45.6,38.6A2.4,2.4 0 0 1 45.6,43.4L20.4,43.4A2.4,2.4 0 0 1 20.4,38.6ZM66.4,38.6L91.6,38.6A2.4,2.4 0 0 1 91.6,43.4L66.4,43.4A2.4,2.4 0 0 1 66.4,38.6ZM112.4,38.6L137.6,38.6A2.4,2.4 0 0 1 137.6,43.4L112.4,43.4A2.4,2.4 0 0 1 112.4,38.6ZM158.4,38.6L183.6,38.6A2.4,2.4 0 0 1 183.6,43.4L158.4,43.4A2.4,2.4 0 0 1 158.4,38.6ZM204.4,38.6L229.6,38.6A2.4,2.4 0 0 1 229.6,43.4L204.4,43.4A2.4,2.4 0 0 1 204.4,38.6ZM16.2,46.3L25.8,46.3A2.2,2.2 0 0 1 25.8,50.7L16.2,50.7A2.2,2.2 0 0 1 16.2,46.3ZM42.2,46.3L71.8,46.3A2.2,2.2 0 0 1 71.8,50.7L42.2,50.7A2.2,2.2 0 0 1 42.2,46.3ZM88.2,46.3L117.8,46.3A2.2,2.2 0 0 1 117.8,50.7L88.2,50.7A2.2,2.2 0 0 1 88.2,46.3ZM134.2,46.3L163.8,46.3A2.2,2.2 0 0 1 163.8,50.7L134.2,50.7A2.2,2.2 0 0 1 134.2,46.3ZM180.2,46.3L209.8,46.3A2.2,2.2 0 0 1 209.8,50.7L180.2,50.7A2.2,2.2 0 0 1 180.2,46.3ZM226.2,46.3L242.8,46.3A2.2,2.2 0 0 1 242.8,50.7L226.2,50.7A2.2,2.2 0 0 1 226.2,46.3ZM15.2,53.3L38.8,53.3A1.2,1.2 0 0 1 38.8,55.7L15.2,55.7A1.2,1.2 0 0 1 15.2,53.3ZM57.2,53.3L84.8,53.3A1.2,1.2 0 0 1 84.8,55.7L57.2,55.7A1.2,1.2 0 0 1 57.2,53.3ZM103.2,53.3L130.8,53.3A1.2,1.2 0 0 1 130.8,55.7L103.2,55.7A1.2,1.2 0 0 1 103.2,53.3ZM149.2,53.3L176.8,53.3A1.2,1.2 0 0 1 176.8,55.7L149.2,55.7A1.2,1.2 0 0 1 149.2,53.3ZM195.2,53.3L222.8,53.3A1.2,1.2 0 0 1 222.8,55.7L195.2,55.7A1.2,1.2 0 0 1 195.2,53.3Z" fill="#0d0b0c" stroke="#0d0b0c" stroke-width=".6"/>
<path d="M16.0,-49.4L46.0,-49.4M16.0,-47.6L46.0,-47.6M62.0,-49.4L92.0,-49.4M62.0,-47.6L92.0,-47.6M108.0,-49.4L138.0,-49.4M108.0,-47.6L138.0,-47.6M154.0,-49.4L184.0,-49.4M154.0,-47.6L184.0,-47.6M200.0,-49.4L230.0,-49.4M200.0,-47.6L230.0,-47.6M16.0,47.6L26.0,47.6M16.0,49.4L26.0,49.4M42.0,47.6L72.0,47.6M42.0,49.4L72.0,49.4M88.0,47.6L118.0,47.6M88.0,49.4L118.0,49.4M134.0,47.6L164.0,47.6M134.0,49.4L164.0,49.4M180.0,47.6L210.0,47.6M180.0,49.4L210.0,49.4M226.0,47.6L243.0,47.6M226.0,49.4L243.0,49.4" fill="none" stroke="#fff" stroke-width=".5"/>
<path d="M20.2,-33L18.4,-55M21.2,31L19.9,53M47.5,-33L45.7,-55M48.5,31L47.2,53M74.8,-33L73.0,-55M75.8,31L74.5,53M102.1,-33L100.3,-55M103.1,31L101.8,53M129.4,-33L127.6,-55M130.4,31L129.1,53M156.7,-33L154.9,-55M157.7,31L156.4,53M184.0,-33L182.2,-55M185.0,31L183.7,53M211.3,-33L209.5,-55M212.3,31L211.0,53M238.6,-33L236.8,-55M239.6,31L238.3,53" fill="none" stroke="#fff" stroke-width="2.6"/>
<path d="M20.2,-33L18.4,-55M21.2,31L19.9,53M47.5,-33L45.7,-55M48.5,31L47.2,53M74.8,-33L73.0,-55M75.8,31L74.5,53M102.1,-33L100.3,-55M103.1,31L101.8,53M129.4,-33L127.6,-55M130.4,31L129.1,53M156.7,-33L154.9,-55M157.7,31L156.4,53M184.0,-33L182.2,-55M185.0,31L183.7,53M211.3,-33L209.5,-55M212.3,31L211.0,53M238.6,-33L236.8,-55M239.6,31L238.3,53" fill="none" stroke="#0d0b0c" stroke-width="1"/>
<path d="M25.6,-0.9 A4,4 0 1 1 22.4,-5.5" fill="none" stroke="#0d0b0c" stroke-width="1.35" stroke-linecap="round"/>
<path d="M23.7,-1.2 A2.1,2.1 0 1 1 22.1,-3.6" fill="none" stroke="#0d0b0c" stroke-width="1.3" stroke-linecap="round"/>
<ellipse cx="20.2" cy="-33.0" rx="4.2" ry="3.3" fill="#fff" stroke="#0d0b0c" stroke-width="1.5"/>
<ellipse cx="20.2" cy="-33" rx="1.5" ry="1.2" fill="#0d0b0c"/>
<ellipse cx="18.1" cy="-56.7" rx="3.8" ry="2.4" fill="#fff" stroke="#0d0b0c" stroke-width="1.4"/>
<ellipse cx="18.1" cy="-56.7" rx="1.3" ry=".8" fill="#0d0b0c"/>
<ellipse cx="21.2" cy="31.0" rx="4.2" ry="3.3" fill="#fff" stroke="#0d0b0c" stroke-width="1.5"/>
<ellipse cx="21.2" cy="31" rx="1.5" ry="1.2" fill="#0d0b0c"/>
<ellipse cx="19.6" cy="54.5" rx="3.8" ry="2.5" fill="#fff" stroke="#0d0b0c" stroke-width="1.4"/>
<ellipse cx="19.6" cy="54.5" rx="1.3" ry=".9" fill="#0d0b0c"/>
<path d="M52.9,-0.9 A4,4 0 1 1 49.7,-5.5" fill="none" stroke="#0d0b0c" stroke-width="1.35" stroke-linecap="round"/>
<path d="M51.0,-1.2 A2.1,2.1 0 1 1 49.4,-3.6" fill="none" stroke="#0d0b0c" stroke-width="1.3" stroke-linecap="round"/>
<ellipse cx="47.5" cy="-33.0" rx="4.2" ry="3.3" fill="#fff" stroke="#0d0b0c" stroke-width="1.5"/>
<ellipse cx="47.5" cy="-33" rx="1.5" ry="1.2" fill="#0d0b0c"/>
<ellipse cx="45.4" cy="-56.7" rx="3.8" ry="2.4" fill="#fff" stroke="#0d0b0c" stroke-width="1.4"/>
<ellipse cx="45.4" cy="-56.7" rx="1.3" ry=".8" fill="#0d0b0c"/>
<ellipse cx="48.5" cy="31.0" rx="4.2" ry="3.3" fill="#fff" stroke="#0d0b0c" stroke-width="1.5"/>
<ellipse cx="48.5" cy="31" rx="1.5" ry="1.2" fill="#0d0b0c"/>
<ellipse cx="46.9" cy="54.5" rx="3.8" ry="2.5" fill="#fff" stroke="#0d0b0c" stroke-width="1.4"/>
<ellipse cx="46.9" cy="54.5" rx="1.3" ry=".9" fill="#0d0b0c"/>
<path d="M80.2,-0.9 A4,4 0 1 1 77.0,-5.5" fill="none" stroke="#0d0b0c" stroke-width="1.35" stroke-linecap="round"/>
<path d="M78.3,-1.2 A2.1,2.1 0 1 1 76.7,-3.6" fill="none" stroke="#0d0b0c" stroke-width="1.3" stroke-linecap="round"/>
<ellipse cx="74.8" cy="-33.0" rx="4.2" ry="3.3" fill="#fff" stroke="#0d0b0c" stroke-width="1.5"/>
<ellipse cx="74.8" cy="-33" rx="1.5" ry="1.2" fill="#0d0b0c"/>
<ellipse cx="72.7" cy="-56.7" rx="3.8" ry="2.4" fill="#fff" stroke="#0d0b0c" stroke-width="1.4"/>
<ellipse cx="72.7" cy="-56.7" rx="1.3" ry=".8" fill="#0d0b0c"/>
<ellipse cx="75.8" cy="31.0" rx="4.2" ry="3.3" fill="#fff" stroke="#0d0b0c" stroke-width="1.5"/>
<ellipse cx="75.8" cy="31" rx="1.5" ry="1.2" fill="#0d0b0c"/>
<ellipse cx="74.2" cy="54.5" rx="3.8" ry="2.5" fill="#fff" stroke="#0d0b0c" stroke-width="1.4"/>
<ellipse cx="74.2" cy="54.5" rx="1.3" ry=".9" fill="#0d0b0c"/>
<path d="M107.5,-0.9 A4,4 0 1 1 104.3,-5.5" fill="none" stroke="#0d0b0c" stroke-width="1.35" stroke-linecap="round"/>
<path d="M105.6,-1.2 A2.1,2.1 0 1 1 104.0,-3.6" fill="none" stroke="#0d0b0c" stroke-width="1.3" stroke-linecap="round"/>
<ellipse cx="102.1" cy="-33.0" rx="4.2" ry="3.3" fill="#fff" stroke="#0d0b0c" stroke-width="1.5"/>
<ellipse cx="102.1" cy="-33" rx="1.5" ry="1.2" fill="#0d0b0c"/>
<ellipse cx="100.0" cy="-56.7" rx="3.8" ry="2.4" fill="#fff" stroke="#0d0b0c" stroke-width="1.4"/>
<ellipse cx="100.0" cy="-56.7" rx="1.3" ry=".8" fill="#0d0b0c"/>
<ellipse cx="103.1" cy="31.0" rx="4.2" ry="3.3" fill="#fff" stroke="#0d0b0c" stroke-width="1.5"/>
<ellipse cx="103.1" cy="31" rx="1.5" ry="1.2" fill="#0d0b0c"/>
<ellipse cx="101.5" cy="54.5" rx="3.8" ry="2.5" fill="#fff" stroke="#0d0b0c" stroke-width="1.4"/>
<ellipse cx="101.5" cy="54.5" rx="1.3" ry=".9" fill="#0d0b0c"/>
<path d="M134.8,-0.9 A4,4 0 1 1 131.6,-5.5" fill="none" stroke="#0d0b0c" stroke-width="1.35" stroke-linecap="round"/>
<path d="M132.9,-1.2 A2.1,2.1 0 1 1 131.3,-3.6" fill="none" stroke="#0d0b0c" stroke-width="1.3" stroke-linecap="round"/>
<ellipse cx="129.4" cy="-33.0" rx="4.2" ry="3.3" fill="#fff" stroke="#0d0b0c" stroke-width="1.5"/>
<ellipse cx="129.4" cy="-33" rx="1.5" ry="1.2" fill="#0d0b0c"/>
<ellipse cx="127.3" cy="-56.7" rx="3.8" ry="2.4" fill="#fff" stroke="#0d0b0c" stroke-width="1.4"/>
<ellipse cx="127.3" cy="-56.7" rx="1.3" ry=".8" fill="#0d0b0c"/>
<ellipse cx="130.4" cy="31.0" rx="4.2" ry="3.3" fill="#fff" stroke="#0d0b0c" stroke-width="1.5"/>
<ellipse cx="130.4" cy="31" rx="1.5" ry="1.2" fill="#0d0b0c"/>
<ellipse cx="128.8" cy="54.5" rx="3.8" ry="2.5" fill="#fff" stroke="#0d0b0c" stroke-width="1.4"/>
<ellipse cx="128.8" cy="54.5" rx="1.3" ry=".9" fill="#0d0b0c"/>
<path d="M162.1,-0.9 A4,4 0 1 1 158.9,-5.5" fill="none" stroke="#0d0b0c" stroke-width="1.35" stroke-linecap="round"/>
<path d="M160.2,-1.2 A2.1,2.1 0 1 1 158.6,-3.6" fill="none" stroke="#0d0b0c" stroke-width="1.3" stroke-linecap="round"/>
<ellipse cx="156.7" cy="-33.0" rx="4.2" ry="3.3" fill="#fff" stroke="#0d0b0c" stroke-width="1.5"/>
<ellipse cx="156.7" cy="-33" rx="1.5" ry="1.2" fill="#0d0b0c"/>
<ellipse cx="154.6" cy="-56.7" rx="3.8" ry="2.4" fill="#fff" stroke="#0d0b0c" stroke-width="1.4"/>
<ellipse cx="154.6" cy="-56.7" rx="1.3" ry=".8" fill="#0d0b0c"/>
<ellipse cx="157.7" cy="31.0" rx="4.2" ry="3.3" fill="#fff" stroke="#0d0b0c" stroke-width="1.5"/>
<ellipse cx="157.7" cy="31" rx="1.5" ry="1.2" fill="#0d0b0c"/>
<ellipse cx="156.1" cy="54.5" rx="3.8" ry="2.5" fill="#fff" stroke="#0d0b0c" stroke-width="1.4"/>
<ellipse cx="156.1" cy="54.5" rx="1.3" ry=".9" fill="#0d0b0c"/>
<path d="M189.4,-0.9 A4,4 0 1 1 186.2,-5.5" fill="none" stroke="#0d0b0c" stroke-width="1.35" stroke-linecap="round"/>
<path d="M187.5,-1.2 A2.1,2.1 0 1 1 185.9,-3.6" fill="none" stroke="#0d0b0c" stroke-width="1.3" stroke-linecap="round"/>
<ellipse cx="184.0" cy="-33.0" rx="4.2" ry="3.3" fill="#fff" stroke="#0d0b0c" stroke-width="1.5"/>
<ellipse cx="184.0" cy="-33" rx="1.5" ry="1.2" fill="#0d0b0c"/>
<ellipse cx="181.9" cy="-56.7" rx="3.8" ry="2.4" fill="#fff" stroke="#0d0b0c" stroke-width="1.4"/>
<ellipse cx="181.9" cy="-56.7" rx="1.3" ry=".8" fill="#0d0b0c"/>
<ellipse cx="185.0" cy="31.0" rx="4.2" ry="3.3" fill="#fff" stroke="#0d0b0c" stroke-width="1.5"/>
<ellipse cx="185.0" cy="31" rx="1.5" ry="1.2" fill="#0d0b0c"/>
<ellipse cx="183.4" cy="54.5" rx="3.8" ry="2.5" fill="#fff" stroke="#0d0b0c" stroke-width="1.4"/>
<ellipse cx="183.4" cy="54.5" rx="1.3" ry=".9" fill="#0d0b0c"/>
<path d="M216.7,-0.9 A4,4 0 1 1 213.5,-5.5" fill="none" stroke="#0d0b0c" stroke-width="1.35" stroke-linecap="round"/>
<path d="M214.8,-1.2 A2.1,2.1 0 1 1 213.2,-3.6" fill="none" stroke="#0d0b0c" stroke-width="1.3" stroke-linecap="round"/>
<ellipse cx="211.3" cy="-33.0" rx="4.2" ry="3.3" fill="#fff" stroke="#0d0b0c" stroke-width="1.5"/>
<ellipse cx="211.3" cy="-33" rx="1.5" ry="1.2" fill="#0d0b0c"/>
<ellipse cx="209.2" cy="-56.7" rx="3.8" ry="2.4" fill="#fff" stroke="#0d0b0c" stroke-width="1.4"/>
<ellipse cx="209.2" cy="-56.7" rx="1.3" ry=".8" fill="#0d0b0c"/>
<ellipse cx="212.3" cy="31.0" rx="4.2" ry="3.3" fill="#fff" stroke="#0d0b0c" stroke-width="1.5"/>
<ellipse cx="212.3" cy="31" rx="1.5" ry="1.2" fill="#0d0b0c"/>
<ellipse cx="210.7" cy="54.5" rx="3.8" ry="2.5" fill="#fff" stroke="#0d0b0c" stroke-width="1.4"/>
<ellipse cx="210.7" cy="54.5" rx="1.3" ry=".9" fill="#0d0b0c"/>
<path d="M244.0,-0.9 A4,4 0 1 1 240.8,-5.5" fill="none" stroke="#0d0b0c" stroke-width="1.35" stroke-linecap="round"/>
<path d="M242.1,-1.2 A2.1,2.1 0 1 1 240.5,-3.6" fill="none" stroke="#0d0b0c" stroke-width="1.3" stroke-linecap="round"/>
<ellipse cx="238.6" cy="-33.0" rx="4.2" ry="3.3" fill="#fff" stroke="#0d0b0c" stroke-width="1.5"/>
<ellipse cx="238.6" cy="-33" rx="1.5" ry="1.2" fill="#0d0b0c"/>
<ellipse cx="236.5" cy="-56.7" rx="3.8" ry="2.4" fill="#fff" stroke="#0d0b0c" stroke-width="1.4"/>
<ellipse cx="236.5" cy="-56.7" rx="1.3" ry=".8" fill="#0d0b0c"/>
<ellipse cx="239.6" cy="31.0" rx="4.2" ry="3.3" fill="#fff" stroke="#0d0b0c" stroke-width="1.5"/>
<ellipse cx="239.6" cy="31" rx="1.5" ry="1.2" fill="#0d0b0c"/>
<ellipse cx="238.0" cy="54.5" rx="3.8" ry="2.5" fill="#fff" stroke="#0d0b0c" stroke-width="1.4"/>
<ellipse cx="238.0" cy="54.5" rx="1.3" ry=".9" fill="#0d0b0c"/>
</g>

<!-- leader lines -->
<g class="lh">
<polyline points="268.2,496 268.2,450.7 437,380.2"/>
<line x1="291.8" y1="594" x2="387" y2="594"/>
<line x1="184" y1="617.8" x2="184" y2="695.6"/>
<line x1="340" y1="848.7" x2="406.2" y2="778.7"/>
<line x1="344.5" y1="1082.2" x2="448.7" y2="1082.2"/>
<polyline points="343.2,1202.5 370,1202.5 461.2,1250"/>
<polyline points="603.7,1202.5 640,1202.5 712,1125"/>
<polyline points="637,581.2 670,581.2 723.7,683"/>
<line x1="635.7" y1="485" x2="713" y2="485"/>
<line x1="549.5" y1="273.5" x2="623" y2="273.5"/>
<line x1="675.7" y1="215.7" x2="739" y2="215.7"/>
</g>
<g class="ld">
<polyline points="268.2,496 268.2,450.7 437,380.2"/>
<line x1="291.8" y1="594" x2="387" y2="594"/>
<line x1="184" y1="617.8" x2="184" y2="695.6"/>
<line x1="340" y1="848.7" x2="406.2" y2="778.7"/>
<line x1="344.5" y1="1082.2" x2="448.7" y2="1082.2"/>
<polyline points="343.2,1202.5 370,1202.5 461.2,1250"/>
<polyline points="603.7,1202.5 640,1202.5 712,1125"/>
<polyline points="637,581.2 670,581.2 723.7,683"/>
<line x1="635.7" y1="485" x2="713" y2="485"/>
<line x1="549.5" y1="273.5" x2="623" y2="273.5"/>
<line x1="675.7" y1="215.7" x2="739" y2="215.7"/>
</g>
<defs>
<clipPath id="k1"><polygon points="300,840 330,840 330,863.2 317.2,863.2 317.2,870 312.8,870 312.8,863.2 300,863.2"/></clipPath>
<clipPath id="k10"><polygon points="630,250 660,250 660,290 645.6,290 645.6,277.3 641.2,277.3 641.2,290 637.1,290 637.1,277.3 630,277.3"/></clipPath>
<clipPath id="k11"><polygon points="630,195 660,195 660,220.3 653,220.3 653,232 649,232 649,220.3 642.2,220.3 642.2,232 638.1,232 638.1,220.3 630,220.3"/></clipPath>
</defs>
<!-- label circles -->
<g class="lc">
<circle cx="314.4" cy="856.9" r="18.65"/>
<circle cx="267.05" cy="590.9" r="18.65"/>
<circle cx="184.45" cy="590.9" r="18.65"/>
<circle cx="267.05" cy="522" r="18.65"/>
<circle cx="314.5" cy="1085.7" r="18.65"/>
<circle cx="314.5" cy="1200" r="18.65"/>
<circle cx="580" cy="1200" r="18.65"/>
<circle cx="604" cy="580" r="18.65"/>
<circle cx="604" cy="487" r="18.65"/>
<circle cx="645.2" cy="270.9" r="18.65"/>
<circle cx="645.2" cy="213.8" r="18.65"/>
</g>
<g class="lt">
<g clip-path="url(#k1)"><text transform="translate(315,866.65) scale(.9,1)">1</text></g>
<text transform="translate(267.05,600.65) scale(.9,1)">2</text>
<text transform="translate(184.45,600.65) scale(.9,1)">3</text>
<text transform="translate(267.05,531.75) scale(.9,1)">4</text>
<text transform="translate(314.5,1095.45) scale(.9,1)">5</text>
<text transform="translate(314.5,1209.75) scale(.9,1)">6</text>
<text transform="translate(580,1209.75) scale(.9,1)">7</text>
<text transform="translate(604,589.75) scale(.9,1)">8</text>
<text transform="translate(604,496.75) scale(.9,1)">9</text>
<g clip-path="url(#k10)"><text transform="translate(645.2,280.65) scale(.75,1)">10</text></g>
<g clip-path="url(#k11)"><text transform="translate(645.2,223.55) scale(.75,1)">11</text></g>
</g>

</svg>
</body>
</html>
